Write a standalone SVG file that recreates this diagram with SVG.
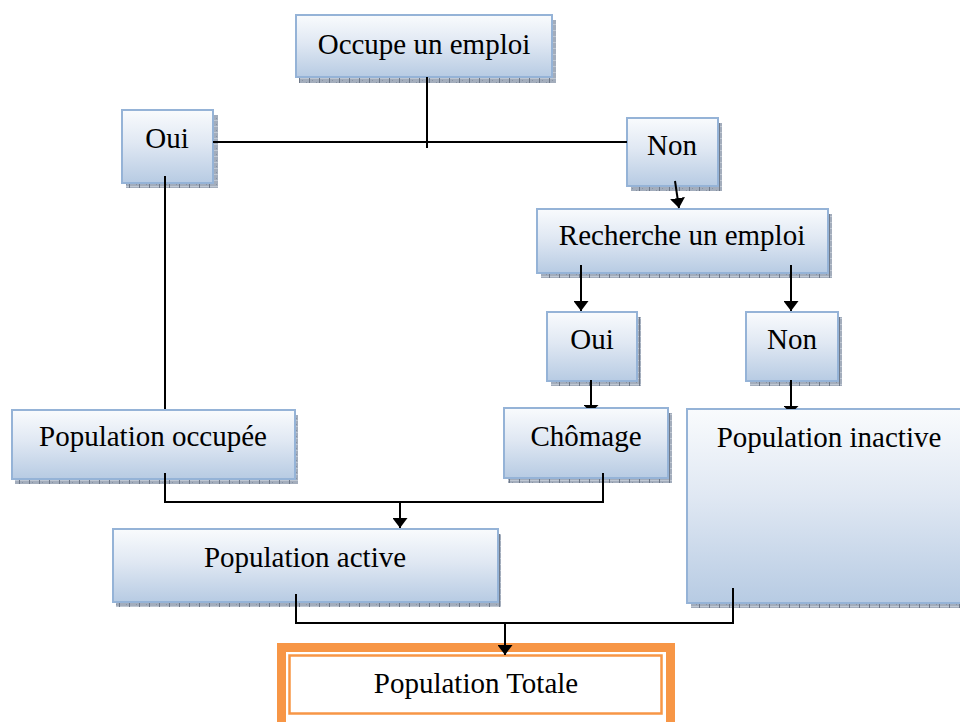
<svg xmlns="http://www.w3.org/2000/svg" width="960" height="722" viewBox="0 0 960 722">
<defs>
<linearGradient id="g" x1="0" y1="0" x2="0" y2="1">
<stop offset="0" stop-color="#F9FBFD"/>
<stop offset="0.45" stop-color="#E0E8F3"/>
<stop offset="1" stop-color="#B7CBE3"/>
</linearGradient>
<pattern id="sh" width="10" height="6" patternUnits="userSpaceOnUse">
<rect width="10" height="6" fill="#A3ADBC"/>
<rect x="0" y="0" width="10" height="1" fill="#BFC7D2"/>
<rect x="2" y="2" width="1" height="1" fill="#8893A3"/>
<rect x="6" y="4" width="1" height="1" fill="#8893A3"/>
<rect x="9" y="0" width="1" height="6" fill="#6E7888"/>
</pattern>
<marker id="arr" viewBox="0 0 10 15" markerWidth="10" markerHeight="15" refX="10" refY="7.5" orient="auto" markerUnits="userSpaceOnUse">
<path d="M0,0 L10,7.5 L0,15 z" fill="#000"/>
</marker>
<marker id="flat" viewBox="0 0 3 15" markerWidth="3" markerHeight="15" refX="3" refY="7.5" orient="auto" markerUnits="userSpaceOnUse">
<path d="M0,0 L3,3 L3,12 L0,15 z" fill="#000"/>
</marker>
</defs>
<style>
.box{fill:url(#g);stroke:#95B3D7;stroke-width:2}
.shadow{fill:url(#sh)}
.t{font-family:"Liberation Serif","Times New Roman",serif;font-size:29px;fill:#000;text-anchor:middle}
.c{fill:none;stroke:#000;stroke-width:2}
</style>
<rect width="960" height="722" fill="#fff"/>

<g id="occupe">
<rect class="shadow" x="299" y="20" width="257" height="63"/>
<rect class="box" x="296" y="15" width="256" height="62"/>
<text class="t" x="424" y="54">Occupe un emploi</text>
</g>
<g id="oui1">
<rect class="shadow" x="126" y="115" width="92" height="73"/>
<rect class="box" x="122" y="110" width="91" height="73"/>
<text class="t" x="167" y="148">Oui</text>
</g>
<g id="non1">
<rect class="shadow" x="631" y="123" width="91" height="68"/>
<rect class="box" x="627" y="118" width="91" height="68"/>
<text class="t" x="672" y="155">Non</text>
</g>
<g id="recherche">
<rect class="shadow" x="541" y="214" width="291" height="64"/>
<rect class="box" x="537" y="209" width="291" height="64"/>
<text class="t" x="682" y="245">Recherche un emploi</text>
</g>
<g id="oui2">
<rect class="shadow" x="551" y="317" width="90" height="69"/>
<rect class="box" x="547" y="312" width="90" height="69"/>
<text class="t" x="592" y="349">Oui</text>
</g>
<g id="non2">
<rect class="shadow" x="750" y="317" width="92" height="69"/>
<rect class="box" x="746" y="312" width="92" height="69"/>
<text class="t" x="792" y="349">Non</text>
</g>
<g id="occupee">
<rect class="shadow" x="15" y="415" width="283" height="69"/>
<rect class="box" x="12" y="410" width="283" height="69"/>
<text class="t" x="153" y="446">Population occupée</text>
</g>
<g id="chomage">
<rect class="shadow" x="508" y="413" width="164" height="70"/>
<rect class="box" x="504" y="408" width="164" height="70"/>
<text class="t" x="586" y="446">Chômage</text>
</g>
<g id="inactive">
<rect class="shadow" x="691" y="414" width="284" height="194"/>
<rect class="box" x="687" y="409" width="284" height="194"/>
<text class="t" x="829" y="447">Population inactive</text>
</g>
<g id="active">
<rect class="shadow" x="116" y="534" width="385" height="73"/>
<rect class="box" x="113" y="529" width="385" height="73"/>
<text class="t" x="305" y="567">Population active</text>
</g>
<g id="totale">
<rect x="281.5" y="647.5" width="389" height="90" fill="#fff" stroke="#F79646" stroke-width="9"/>
<rect x="289.5" y="655.5" width="372" height="58" fill="#fff" stroke="#F79646" stroke-width="2.5"/>
<text class="t" x="476" y="693">Population Totale</text>
</g>

<g id="connectors">
<path class="c" d="M427,77 V148"/>
<path class="c" d="M213,142 H627"/>
<path class="c" d="M165,176 V409"/>
<path class="c" d="M675,181 L679,208" marker-end="url(#arr)"/>
<path class="c" d="M581,265 V311" marker-end="url(#arr)"/>
<path class="c" d="M791,265 V311" marker-end="url(#arr)"/>
<path class="c" d="M591,380 V408" marker-end="url(#flat)"/>
<path class="c" d="M791,380 V409" marker-end="url(#flat)"/>
<path class="c" d="M165,473 V502 H603 V473"/>
<path class="c" d="M400,502 V528" marker-end="url(#arr)"/>
<path class="c" d="M296,594 V623 H733 V588"/>
<path class="c" d="M505,623 V655" marker-end="url(#arr)"/>
</g>
</svg>
